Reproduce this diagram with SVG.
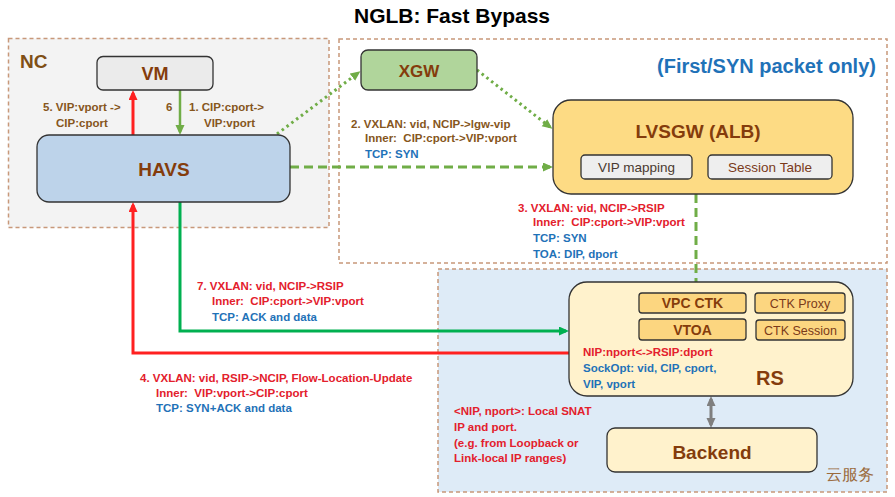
<svg xmlns="http://www.w3.org/2000/svg" width="895" height="497" viewBox="0 0 895 497">
<style>
text{font-family:"Liberation Sans",Arial,sans-serif}
.cont{stroke:#c8987a;stroke-width:1.5;stroke-dasharray:4 3}
.node{stroke:#333;stroke-width:1.3}
.nl{font-weight:bold;fill:#843c0c;text-anchor:middle}
.sm{font-size:11.5px;font-weight:bold}
.br{fill:#86561c}
.rd{fill:#e3202c}
.bl{fill:#1f72b8}
.sub{font-size:13.5px;text-anchor:middle}
</style>
<defs>
<marker id="aR" markerUnits="userSpaceOnUse" markerWidth="12" markerHeight="10" refX="7" refY="4.5" orient="auto"><path d="M0,0 L10,4.5 L0,9 z" fill="#ff2020"/></marker>
<marker id="aG" markerUnits="userSpaceOnUse" markerWidth="12" markerHeight="10" refX="7" refY="4.5" orient="auto"><path d="M0,0 L10,4.5 L0,9 z" fill="#70ad47"/></marker>
<marker id="aD" markerUnits="userSpaceOnUse" markerWidth="12" markerHeight="10" refX="7" refY="4.5" orient="auto"><path d="M0,0 L10,4.5 L0,9 z" fill="#00b050"/></marker>
<marker id="aY" markerUnits="userSpaceOnUse" markerWidth="12" markerHeight="10" refX="7" refY="4.5" orient="auto-start-reverse"><path d="M0,0 L10,4.5 L0,9 z" fill="#7f7f7f"/></marker>
</defs>
<rect width="895" height="497" fill="#fff"/>
<text x="452" y="23" font-size="21" font-weight="bold" text-anchor="middle" fill="#000">NGLB: Fast Bypass</text>

<g id="containers">
<rect id="nc" class="cont" x="8.5" y="38.5" width="320.5" height="189" fill="#f3f3f3"/>
<rect id="syn-area" class="cont" x="339" y="39" width="548" height="224" fill="#fff"/>
<rect id="cloud" class="cont" x="438" y="269" width="449" height="223" fill="#deebf7"/>
<text x="20" y="68" font-size="19" font-weight="bold" fill="#7f4f16">NC</text>
<text x="657" y="73" font-size="20" font-weight="bold" fill="#1f72b8">(First/SYN packet only)</text>
<text x="826" y="480" font-size="16" fill="#9a6a3c" font-family="Noto Sans CJK SC, sans-serif">云服务</text>
</g>

<g id="connectors" fill="none">
<line x1="133" y1="135" x2="133" y2="93" stroke="#ff2020" stroke-width="3" marker-end="url(#aR)"/>
<line x1="180" y1="90" x2="180" y2="132" stroke="#70ad47" stroke-width="2.5" marker-end="url(#aG)"/>
<line x1="277" y1="134" x2="358" y2="73" stroke="#70ad47" stroke-width="3" stroke-dasharray="2.5 3.5" marker-end="url(#aG)"/>
<line x1="477" y1="70" x2="550" y2="127" stroke="#70ad47" stroke-width="3" stroke-dasharray="2.5 3.5" marker-end="url(#aG)"/>
<line x1="290" y1="167" x2="550" y2="167" stroke="#70ad47" stroke-width="3" stroke-dasharray="9 5" marker-end="url(#aG)"/>
<line x1="696" y1="194" x2="696" y2="290" stroke="#70ad47" stroke-width="3" stroke-dasharray="9 5" marker-end="url(#aG)"/>
<path d="M180,202 V331 H566" stroke="#00b050" stroke-width="3" marker-end="url(#aD)"/>
<path d="M569,353 H133 V205" stroke="#ff2020" stroke-width="3" marker-end="url(#aR)"/>
<line x1="711" y1="399" x2="711" y2="425" stroke="#7f7f7f" stroke-width="3" marker-start="url(#aY)" marker-end="url(#aY)"/>
</g>

<g id="labels">
<text class="sm br" x="43" y="111">5. VIP:vport -&gt;</text>
<text class="sm br" x="56" y="127">CIP:cport</text>
<text class="sm br" x="166" y="111">6</text>
<text class="sm br" x="189" y="111">1. CIP:cport-&gt;</text>
<text class="sm br" x="204" y="127">VIP:vport</text>
<text class="sm br" x="351" y="128">2. VXLAN: vid, NCIP-&gt;lgw-vip</text>
<text class="sm br" x="365" y="142" xml:space="preserve">Inner:  CIP:cport-&gt;VIP:vport</text>
<text class="sm bl" x="365" y="158">TCP: SYN</text>
<text class="sm rd" x="518" y="212">3. VXLAN: vid, NCIP-&gt;RSIP</text>
<text class="sm rd" x="533" y="226" xml:space="preserve">Inner:  CIP:cport-&gt;VIP:vport</text>
<text class="sm bl" x="533" y="242">TCP: SYN</text>
<text class="sm bl" x="533" y="258">TOA: DIP, dport</text>
<text class="sm rd" x="197" y="290">7. VXLAN: vid, NCIP-&gt;RSIP</text>
<text class="sm rd" x="212" y="305" xml:space="preserve">Inner:  CIP:cport-&gt;VIP:vport</text>
<text class="sm bl" x="212" y="321">TCP: ACK and data</text>
<text class="sm rd" x="140" y="382">4. VXLAN: vid, RSIP-&gt;NCIP, Flow-Location-Update</text>
<text class="sm rd" x="156" y="397" xml:space="preserve">Inner:  VIP:vport-&gt;CIP:cport</text>
<text class="sm bl" x="156" y="412">TCP: SYN+ACK and data</text>
<text class="sm rd" x="454" y="415">&lt;NIP, nport&gt;: Local SNAT</text>
<text class="sm rd" x="454" y="431">IP and port.</text>
<text class="sm rd" x="454" y="447">(e.g. from Loopback or</text>
<text class="sm rd" x="454" y="462">Link-local IP ranges)</text>
</g>

<g id="vm">
<rect class="node" x="97" y="56.5" width="116" height="33.5" rx="6" fill="#ebebeb"/>
<text class="nl" x="155" y="80" font-size="18">VM</text>
</g>
<g id="havs">
<rect class="node" x="37" y="135" width="253" height="67" rx="12" fill="#bdd3ea"/>
<text class="nl" x="164" y="176" font-size="19">HAVS</text>
</g>
<g id="xgw">
<rect class="node" x="361" y="50" width="116" height="40" rx="7" fill="#b0d59b"/>
<text class="nl" x="419" y="77" font-size="17">XGW</text>
</g>
<g id="lvsgw">
<rect class="node" x="553" y="100" width="300" height="94" rx="18" fill="#fddb84"/>
<text class="nl" x="698" y="138" font-size="19">LVSGW (ALB)</text>
<rect class="node" x="581" y="155" width="111" height="24" rx="4" fill="#eeeeee"/>
<text class="sub" x="636.5" y="172" fill="#4a3a30">VIP mapping</text>
<rect class="node" x="708" y="155" width="124" height="24" rx="4" fill="#eeeeee"/>
<text class="sub" x="770" y="172" fill="#7a3a1a">Session Table</text>
</g>
<g id="rs">
<rect class="node" x="569" y="282" width="284" height="114" rx="18" fill="#fff2cc"/>
<rect class="node" x="639" y="293" width="107" height="20" rx="3" fill="#fcd680"/>
<text class="nl" x="692.5" y="308" font-size="14">VPC CTK</text>
<rect class="node" x="639" y="319" width="107" height="21" rx="3" fill="#fcd680"/>
<text class="nl" x="692.5" y="335" font-size="14">VTOA</text>
<rect class="node" x="755" y="293" width="90" height="20" rx="3" fill="#fcd680"/>
<text x="800" y="308" font-size="12.5" text-anchor="middle" fill="#7a3a1a">CTK Proxy</text>
<rect class="node" x="756" y="320" width="89" height="20" rx="3" fill="#fcd680"/>
<text x="800.5" y="335" font-size="12.5" text-anchor="middle" fill="#7a3a1a">CTK Session</text>
<text class="sm rd" x="583" y="356">NIP:nport&lt;-&gt;RSIP:dport</text>
<text class="sm bl" x="583" y="372">SockOpt: vid, CIP, cport,</text>
<text class="sm bl" x="583" y="388">VIP, vport</text>
<text class="nl" x="770" y="385" font-size="20">RS</text>
</g>
<g id="backend">
<rect class="node" x="607" y="428" width="210" height="44" rx="8" fill="#fff2cc"/>
<text class="nl" x="712" y="459" font-size="19">Backend</text>
</g>
</svg>
